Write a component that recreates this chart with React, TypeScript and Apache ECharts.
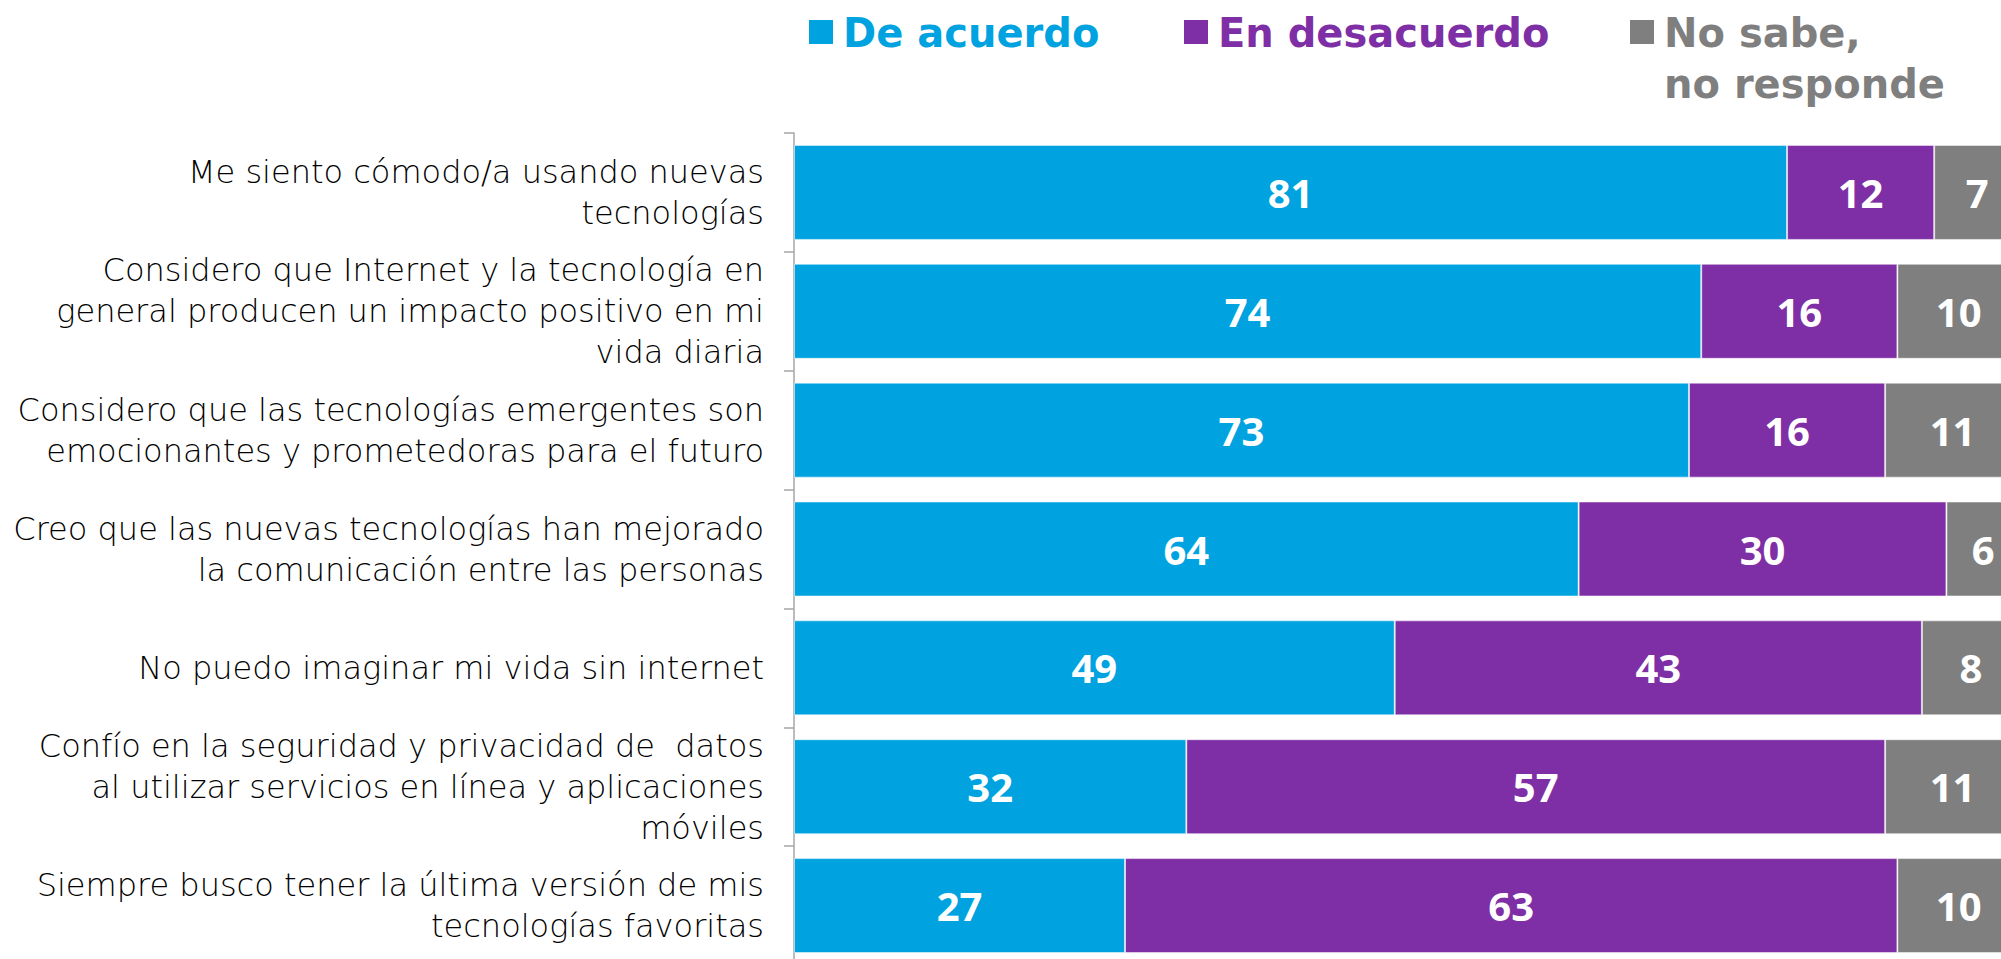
import React, { useEffect, useRef } from "react";
import * as echarts from "echarts";

const categories = [
  "Me siento cómodo/a usando nuevas\ntecnologías",
  "Considero que Internet y la tecnología en\ngeneral producen un impacto positivo en mi\nvida diaria",
  "Considero que las tecnologías emergentes son\nemocionantes y prometedoras para el futuro",
  "Creo que las nuevas tecnologías han mejorado\nla comunicación entre las personas",
  "No puedo imaginar mi vida sin internet",
  "Confío en la seguridad y privacidad de  datos\nal utilizar servicios en línea y aplicaciones\nmóviles",
  "Siempre busco tener la última versión de mis\ntecnologías favoritas",
];

const seriesNames = ["De acuerdo", "En desacuerdo", "No sabe, no responde"];
const legendLabels = ["De acuerdo", "En desacuerdo", "No sabe,\nno responde"];
const deAcuerdo = [81, 74, 73, 64, 49, 32, 27];
const enDesacuerdo = [12, 16, 16, 30, 43, 57, 63];
const noSabe = [7, 10, 11, 6, 8, 11, 10];

const COLORS = ["#00A3E0", "#7F2FA5", "#7F7F7F"];
const FONT = "'Open Sans', 'Noto Sans', sans-serif";
const LABEL_FONT = "'DejaVu Sans', sans-serif";

export default function App() {
  const ref = useRef<HTMLDivElement>(null);

  useEffect(() => {
    if (!ref.current) return;
    const chart = echarts.init(ref.current, undefined, { renderer: "svg" });
    const values = [deAcuerdo, enDesacuerdo, noSabe];

    const legendX = [809, 1184, 1630];
    const graphic: any[] = [];
    legendLabels.forEach((lab, i) => {
      graphic.push({
        type: "rect",
        left: legendX[i],
        top: 20,
        shape: { width: 24, height: 24 },
        style: { fill: COLORS[i] },
      });
      graphic.push({
        type: "text",
        left: legendX[i] + 34,
        top: 7,
        style: {
          text: lab,
          fill: COLORS[i],
          font: `bold 40px ${LABEL_FONT}`,
          lineHeight: 51,
        },
      });
    });

    chart.setOption({
      animation: false,
      backgroundColor: "#ffffff",
      grid: { left: 794, top: 133, width: 1226, height: 832, containLabel: false },
      xAxis: {
        type: "value",
        min: 0,
        max: 100,
        show: false,
      },
      yAxis: {
        type: "category",
        inverse: true,
        data: categories,
        axisLine: { show: true, lineStyle: { color: "#A6A6A6", width: 1.5 } },
        axisTick: { show: true, length: 10, lineStyle: { color: "#A6A6A6", width: 1.5 } },
        axisLabel: {
          margin: 30,
          fontSize: 32,
          lineHeight: 41,
          fontFamily: LABEL_FONT,
          fontWeight: 200,
          color: "#000000",
          align: "right",
        },
        splitLine: { show: false },
      },
      graphic,
      series: values.map((v, i) => ({
        name: seriesNames[i],
        type: "bar",
        stack: "total",
        barWidth: 95,
        data: v,
        itemStyle: { color: COLORS[i], borderColor: "rgba(255,255,255,0.5)", borderWidth: 1 },
        label: {
          show: true,
          position: "inside",
          color: "#ffffff",
          fontFamily: FONT,
          fontWeight: "bold",
          fontSize: 40,
        },
      })),
    });

    return () => chart.dispose();
  }, []);

  return (
    <div
      style={{
        position: "fixed",
        left: 0,
        top: 0,
        width: 2001,
        height: 959,
        overflow: "hidden",
        background: "#fff",
      }}
    >
      <div ref={ref} style={{ width: 2030, height: 980 }} />
    </div>
  );
}
